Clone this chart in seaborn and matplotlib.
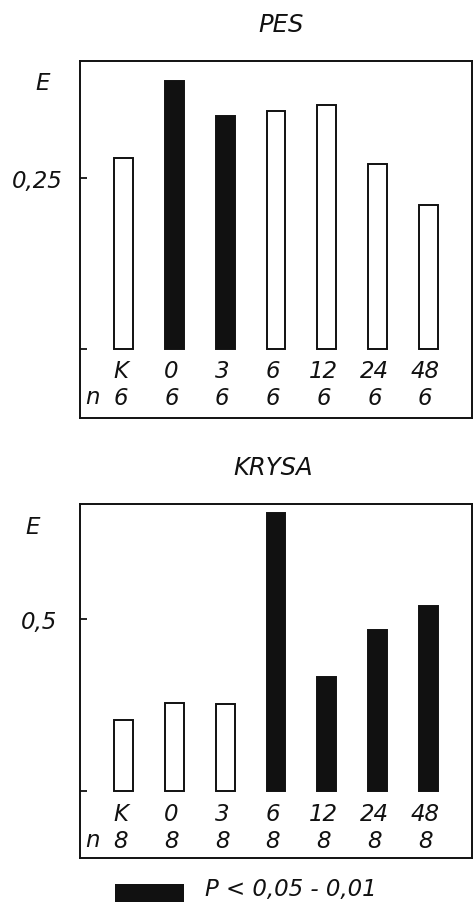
import matplotlib
matplotlib.use("Agg")
import matplotlib.pyplot as plt
import matplotlib.transforms as mtransforms
from matplotlib.patches import Rectangle
import seaborn as sns
import pandas as pd

sns.set_theme(style="white")
plt.rcParams["font.family"] = ["DejaVu Sans"]
plt.rcParams["font.style"] = "italic"
plt.rcParams["ytick.direction"] = "in"

# sampling times (h) after exposure, K = control
times = ["K", "0", "3", "6", "12", "24", "48"]

# extinction E, dog
pes_e = [0.279, 0.392, 0.341, 0.348, 0.357, 0.270, 0.211]
pes_sig = [False, True, True, False, False, False, False]
pes_n = [6, 6, 6, 6, 6, 6, 6]

# extinction E, rat
krysa_e = [0.207, 0.255, 0.252, 0.808, 0.331, 0.468, 0.539]
krysa_sig = [False, False, False, True, True, True, True]
krysa_n = [8, 8, 8, 8, 8, 8, 8]

W, H = 473, 903
fig = plt.figure(figsize=(W / 100, H / 100), dpi=100)
fig.patch.set_facecolor("white")

FS = 16.5
FS_TITLE = 17.5
ink = "#111111"


def fx(px):
    return px / W


def fy(py):
    return 1 - py / H


def panel(rect, values, sig, ns, ylim, ytick, yticklabel, pad,
          title, title_xy, e_xy, lab_y, n_y):
    ax = fig.add_axes(rect)
    df = pd.DataFrame({"t": times, "E": values, "sig": sig})
    sns.barplot(data=df, x="t", y="E", hue="sig", order=times,
                palette={False: "white", True: ink}, dodge=False,
                width=0.37, edgecolor=ink, linewidth=1.4,
                legend=False, ax=ax)
    ax.set_xlim(-0.86, 6.86)
    ax.set_ylim(*ylim)
    ax.set_xlabel("")
    ax.set_ylabel("")
    ax.set_xticks([])
    ax.set_yticks([0, ytick])
    ax.set_yticklabels(["", yticklabel], fontsize=FS, style="italic")
    ax.tick_params(axis="y", which="major", direction="in", length=5,
                   width=1.3, color=ink, pad=pad, left=True,
                   labelcolor=ink)
    for s in ax.spines.values():
        s.set_visible(True)
        s.set_color(ink)
        s.set_linewidth(1.4)

    trans = mtransforms.blended_transform_factory(ax.transData, fig.transFigure)
    for i, (t, n) in enumerate(zip(times, ns)):
        ax.text(i - 0.06, fy(lab_y), t, transform=trans, ha="center",
                va="center", fontsize=FS, style="italic", color=ink)
        ax.text(i - 0.06, fy(n_y), str(n), transform=trans, ha="center",
                va="center", fontsize=FS, style="italic", color=ink)
    fig.text(fx(92), fy(n_y - 1), "n", ha="center", va="center",
             fontsize=FS, style="italic", color=ink)
    fig.text(fx(title_xy[0]), fy(title_xy[1]), title, ha="center",
             va="center", fontsize=FS_TITLE, style="italic", color=ink)
    fig.text(fx(e_xy[0]), fy(e_xy[1]), "E", ha="center", va="center",
             fontsize=FS, style="italic", color=ink)
    return ax


panel([fx(80), fy(419), (472 - 80) / W, (419 - 62) / H],
      pes_e, pes_sig, pes_n,
      (-0.1009, 0.421), 0.25, "0,25", 12.5,
      "PES", (281, 25), (43, 83), 372, 399)

panel([fx(80), fy(859), (472 - 80) / W, (859 - 505) / H],
      krysa_e, krysa_sig, krysa_n,
      (-0.1948, 0.834), 0.5, "0,5", 16.5,
      "KRYSA", (273, 468), (33, 528), 815, 842)

# significance key
fig.patches.append(Rectangle((fx(115), 0), fx(184) - fx(115), fy(885),
                             transform=fig.transFigure, facecolor=ink,
                             edgecolor="none"))
fig.text(fx(205), fy(890), "P < 0,05 - 0,01", ha="left", va="center",
         fontsize=FS, style="italic", color=ink)

fig.savefig("out.png", dpi=100, facecolor="white")
